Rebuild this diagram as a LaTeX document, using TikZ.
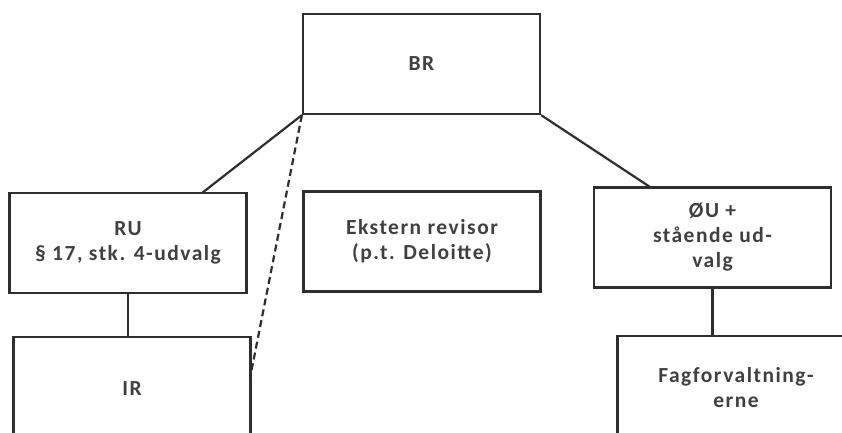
\documentclass[tikz,border=0pt]{standalone}
\usepackage{fontspec}
\setmainfont{Carlito}[LetterSpace=7]
\usetikzlibrary{positioning}

\begin{document}
\begin{tikzpicture}[x=1pt, y=-1pt,
  box/.style={draw=black!82, line width=2.2pt, minimum width=237pt, minimum height=100pt,
    inner sep=0pt, align=center, font=\fontsize{21.5}{25}\selectfont\bfseries, text=black!75}]
  \useasboundingbox (0,0) rectangle (842,432);
  \clip (0,0) rectangle (842,432);
  \node[box] (br)  at (421.5,64)  {BR};
  \node[box] (ru)  at (128,243)   {RU\\§ 17, stk. 4-udvalg};
  \node[box] (ext) at (422,241.5) {Ekstern revisor\\(p.t. Deloitte)};
  \node[box] (ou)  at (712.5,237.5) {ØU +\\stående ud-\\valg};
  \node[box, minimum height=104pt] (ir)  at (132,389)  {IR};
  \node[box, minimum height=104pt] (fag) at (736,388)  {Fagforvaltning-\\erne};
  \coordinate (ru-in) at (202,193);
  \coordinate (ou-in) at (650,187);
  \coordinate (ir-in) at (250,378);
  \path[draw=black!82, line width=2.2pt]
  (br.south west) edge (ru-in)
  (br.south east) edge (ou-in)
  (ru.south) edge (ru.south |- ir.north)
  (ou.south) edge (ou.south |- fag.north)
  ;
  \path[draw=black!82, line width=2.2pt, dash pattern=on 7pt off 4pt]
  (br.south west) edge (ir-in)
  ;
\end{tikzpicture}
\end{document}
